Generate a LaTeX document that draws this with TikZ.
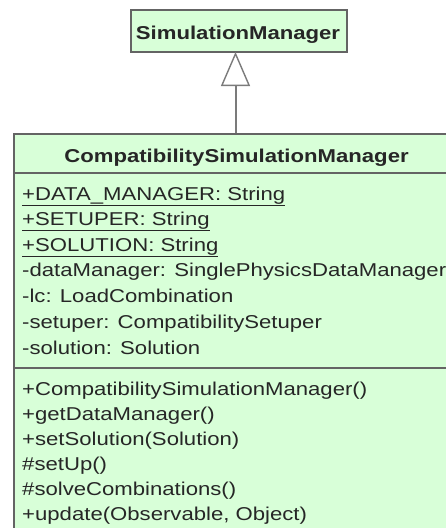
\documentclass[tikz,border=0pt]{standalone}
\usepackage{fontspec}
\usepackage{graphicx}
\setmainfont{Liberation Sans}
\usetikzlibrary{arrows.meta}
\definecolor{umlfill}{RGB}{216,255,216}
\definecolor{umlline}{RGB}{100,100,100}
\definecolor{umltext}{RGB}{38,38,38}
\newcommand{\tx}[1]{\scalebox{1.19}[1]{#1}}
\tikzset{
  classbox/.style={draw=umlline, line width=1.6pt, fill=umlfill, rectangle, inner sep=0pt},
  member/.style={anchor=base west, inner sep=0pt, text=umltext, font=\fontsize{18.6}{22}\selectfont},
  title/.style={anchor=base, inner sep=0pt, text=umltext, font=\fontsize{18.6}{22}\selectfont\bfseries},
  divider/.style={draw=umlline, line width=1.6pt},
  inherit/.style={draw=umlline!85!white, line width=2pt, -{Triangle[open, length=34pt, width=29pt, line width=1.4pt]}}
}
\begin{document}
\begin{tikzpicture}[x=1pt, y=-1pt]
\useasboundingbox (0,0) rectangle (446,528);
\clip (0,0) rectangle (446,528);
\fill[white] (0,0) rectangle (446,528);
% SimulationManager class
\node[classbox, minimum width=216pt, minimum height=42pt, anchor=north west] (sm) at (130,9) {};
\node[title] (smt) at (238,39) {\tx{SimulationManager}};
% CompatibilitySimulationManager class
\node[classbox, minimum width=446pt, minimum height=427pt, anchor=north west] (main) at (13,133) {};
\node[title] (mt) at (236.5,162) {\tx{CompatibilitySimulationManager}};
\coordinate (d1l) at (13,173);
\coordinate (d1r) at (459,173);
\coordinate (d2l) at (13,368);
\coordinate (d2r) at (459,368);
\draw[divider] (d1l) -- (d1r);
\draw[divider] (d2l) -- (d2r);
% attributes
\node[member] (a1) at (22,200) {\tx{\underline{+DATA\_MANAGER: String}}};
\node[member] (a2) at (22,225) {\tx{\underline{+SETUPER: String}}};
\node[member] (a3) at (22,251) {\tx{\underline{+SOLUTION: String}}};
\node[member] (a4) at (22,276) {\tx{-dataManager: SinglePhysicsDataManager}};
\node[member] (a5) at (22,302) {\tx{-lc: LoadCombination}};
\node[member] (a6) at (22,328) {\tx{-setuper: CompatibilitySetuper}};
\node[member] (a7) at (22,354) {\tx{-solution: Solution}};
% methods
\node[member] (m1) at (22,395) {\tx{+CompatibilitySimulationManager()}};
\node[member] (m2) at (22,420) {\tx{+getDataManager()}};
\node[member] (m3) at (22,445) {\tx{+setSolution(Solution)}};
\node[member] (m4) at (22,470) {\tx{\#setUp()}};
\node[member] (m5) at (22,495) {\tx{\#solveCombinations()}};
\node[member] (m6) at (22,520) {\tx{+update(Observable, Object)}};
% generalisation
\coordinate (gtop) at (235.5,52);
\coordinate (gbot) at (235.5,133);
\draw[inherit] (gbot) -- (gtop);
\end{tikzpicture}
\end{document}
